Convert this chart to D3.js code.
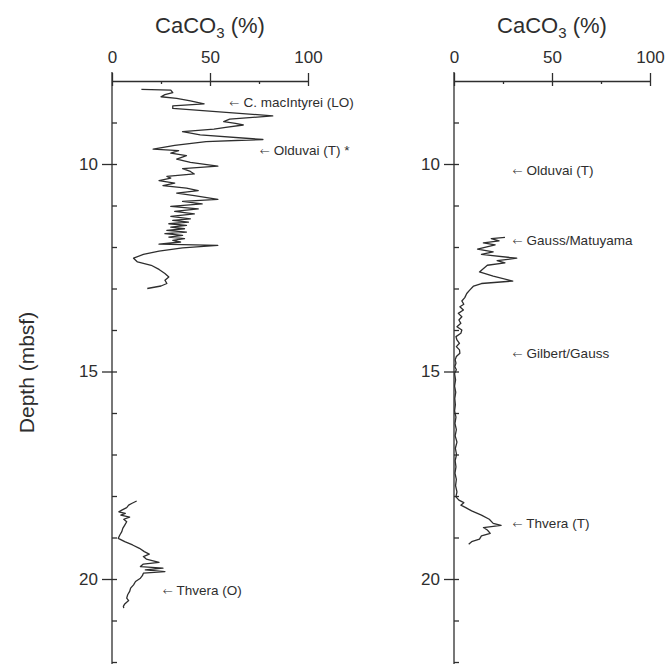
<!DOCTYPE html>
<html>
<head>
<meta charset="utf-8">
<script src="https://cdn.jsdelivr.net/npm/d3@7"></script>
<style>
  body { margin: 0; background: #fff; }
  svg { display: block; }
  text { font-family: "Liberation Sans", Arial, Helvetica, sans-serif; fill: #2e2e2e; }
</style>
</head>
<body>
<svg id="chart" width="668" height="664"></svg>
<script>
// Left column, upper interval: depth (mbsf) and CaCO3 (%)
const upperDepth = [8.20, 8.22, 8.28, 8.33, 8.38, 8.42, 8.48, 8.55, 8.60, 8.66, 8.84, 8.92, 8.98, 9.02, 9.06, 9.12, 9.16, 9.22, 9.30, 9.41,
  9.46, 9.55, 9.64, 9.68, 9.74, 9.80, 9.88, 9.96, 10.05, 10.11, 10.18, 10.24, 10.30, 10.34, 10.40, 10.46, 10.52, 10.58, 10.64, 10.70,
  10.76, 10.85, 10.90, 10.96, 11.02, 11.08, 11.14, 11.20, 11.26, 11.32, 11.36, 11.40, 11.44, 11.48, 11.52, 11.56, 11.60, 11.64, 11.68, 11.72,
  11.76, 11.80, 11.84, 11.88, 11.93, 11.96, 12.02, 12.10, 12.18, 12.27, 12.36, 12.44, 12.54, 12.64, 12.72, 12.80, 12.88, 12.94, 13.00];
const upperCaco3 = [15, 30, 31, 27, 25, 33, 40, 47, 31, 31, 82, 60, 57, 63, 67, 58, 52, 36, 45, 77,
  48, 32, 21, 34, 30, 38, 33, 40, 54, 36, 40, 42, 28, 30, 24, 32, 26, 38, 44, 33,
  42, 54, 36, 46, 30, 44, 32, 42, 30, 40, 31, 39, 29, 38, 30, 37, 28, 38, 27, 36,
  29, 37, 31, 35, 24, 54, 36, 24, 16, 11, 13, 20, 24, 27, 29, 27, 28, 25, 18];

// Left column, lower interval
const lowerDepth = [18.12, 18.18, 18.22, 18.28, 18.34, 18.38, 18.42, 18.46, 18.51, 18.56, 18.62, 18.70, 18.78, 18.86, 18.94, 19.02,
  19.10, 19.18, 19.26, 19.34, 19.40, 19.46, 19.52, 19.60, 19.64, 19.70, 19.74, 19.78, 19.82, 19.86, 19.92, 19.98,
  20.06, 20.14, 20.22, 20.30, 20.38, 20.46, 20.52, 20.60, 20.66, 20.70];
const lowerCaco3 = [12.6, 10, 8.5, 7.5, 5, 3.5, 6.8, 4.5, 9, 6, 7.5, 6.5, 5.5, 5, 4, 3.2,
  6.5, 10.5, 14, 16.5, 19, 16, 17.5, 24, 16, 14.5, 26, 17, 27, 16, 15.5, 14.5,
  12, 11, 9.5, 9, 8, 7.5, 8.5, 6.5, 5.8, 6];

// Right column
const rightDepth = [11.77, 11.80, 11.85, 11.90, 11.95, 12.05, 12.12, 12.18, 12.27, 12.33, 12.38, 12.44, 12.60, 12.70, 12.82, 12.88,
  12.94, 13.04, 13.12, 13.22, 13.30, 13.38, 13.44, 13.52, 13.60, 13.68, 13.76, 13.84, 13.92, 14.00, 14.08, 14.16,
  14.24, 14.32, 14.40, 14.48, 14.56, 14.64, 14.72, 14.80, 14.88, 14.96, 15.05, 15.20, 15.35, 15.50, 15.65, 15.80,
  15.95, 16.10, 16.25, 16.40, 16.55, 16.70, 16.85, 17.00, 17.15, 17.30, 17.45, 17.60, 17.75, 17.90, 18.02, 18.10,
  18.16, 18.22, 18.28, 18.36, 18.46, 18.56, 18.66, 18.71, 18.76, 18.82, 18.90, 18.96, 19.04, 19.10, 19.16];
const rightCaco3 = [26, 19, 23, 15, 21, 12, 20, 14, 32, 22, 26, 17, 13, 20, 30, 14,
  10, 8, 6.5, 5.5, 4, 5, 3, 4.8, 2.2, 4, 2.5, 3.5, 1.5, 4, 3.5, 1,
  1.5, 2.8, 1.2, 2.8, 3, 1.2, 0.6, 1, 0.4, 1.2, 0.3, 0.8, 0.3, 0.9, 0.4, 0.7,
  0.3, 1.0, 0.5, 1.2, 0.6, 1.5, 0.7, 1.3, 0.6, 1.0, 0.5, 1.2, 0.8, 1.5, 1.0, 2.5,
  5.0, 3.5, 6.0, 9.0, 14, 18, 20, 24, 15, 17, 18.5, 14, 13, 9, 7.5];

// Biostratigraphic / magnetostratigraphic events: label, depth, CaCO3 position of the arrow
const leftEventLabels = ["C. macIntyrei (LO)", "Olduvai (T) *", "Thvera (O)"];
const leftEventDepths = [8.52, 9.68, 20.26];
const leftEventAt = [60, 75.5, 26];
const rightEventLabels = ["Olduvai (T)", "Gauss/Matuyama", "Gilbert/Gauss", "Thvera (T)"];
const rightEventDepths = [10.15, 11.83, 14.55, 18.65];
const rightEventAt = [30, 30, 30, 30];

// Axis ticks
const pctMajor = [0, 50, 100];
const pctMinor = [25, 75];
const depthMajor = [10, 15, 20];
const depthMinor = [9, 11, 12, 13, 14, 16, 17, 18, 19, 21, 22];
const depthDomain = [8, 22];
const pctDomain = [0, 100];

const svg = d3.select("#chart");
const ink = "#2e2e2e";

const y = d3.scaleLinear().domain(depthDomain).range([81, 662]);

function panel(left, segments, labels, depths, at) {
  const x = d3.scaleLinear().domain(pctDomain).range([left, left + 196]);
  const g = svg.append("g");

  // top axis
  const top = g.append("g").attr("transform", `translate(0,${y(depthDomain[0])})`)
    .call(d3.axisTop(x).tickValues(pctMajor).tickSize(8).tickSizeOuter(0).tickPadding(10));
  top.selectAll(".tick line").attr("y1", 5);
  const topMinor = g.append("g").attr("transform", `translate(0,${y(depthDomain[0])})`)
    .call(d3.axisTop(x).tickValues(pctMinor).tickSize(-3).tickSizeOuter(0).tickFormat(""));
  topMinor.select(".domain").remove();

  // depth axis
  const yl = g.append("g").attr("transform", `translate(${x(0)},0)`)
    .call(d3.axisLeft(y).tickValues(depthMajor).tickSize(10).tickSizeOuter(0).tickPadding(4));
  yl.selectAll(".tick line").attr("x1", 5);
  yl.select(".domain").attr("d", `M0,${y(depthDomain[0]) - 9}V664`);
  const ym = g.append("g").attr("transform", `translate(${x(0)},0)`)
    .call(d3.axisLeft(y).tickValues(depthMinor).tickSize(-5).tickSizeOuter(0).tickFormat(""));
  ym.select(".domain").remove();

  g.selectAll(".domain, .tick line").attr("stroke", ink).attr("stroke-width", 1.3);
  g.selectAll(".tick text").attr("font-size", 17).attr("fill", ink)
    .attr("font-family", '"Liberation Sans", Arial, sans-serif');

  // title
  const t = g.append("text").attr("x", x(50)).attr("y", 33).attr("text-anchor", "middle")
    .attr("font-size", 22);
  t.append("tspan").text("CaCO");
  t.append("tspan").attr("font-size", 15).attr("dy", 5).text("3");
  t.append("tspan").attr("dy", -5).text(" (%)");

  // curves
  const line = d3.line().x(d => x(d[1])).y(d => y(d[0]));
  segments.forEach(seg => {
    g.append("path").datum(d3.zip(seg[0], seg[1]))
      .attr("d", line).attr("fill", "none").attr("stroke", ink)
      .attr("stroke-width", 1.3).attr("stroke-linejoin", "round");
  });

  // event labels with a left-pointing arrow
  labels.forEach((lab, i) => {
    const tx = g.append("text").attr("x", x(at[i])).attr("y", y(depths[i])).attr("dy", "0.35em")
      .attr("font-size", 13.5);
    tx.append("tspan").attr("font-family", '"DejaVu Sans", sans-serif').attr("font-size", 12)
      .attr("font-weight", 300).text("\u2190");
    tx.append("tspan").text(" " + lab);
  });
  return g;
}

panel(112, [[upperDepth, upperCaco3], [lowerDepth, lowerCaco3]], leftEventLabels, leftEventDepths, leftEventAt);
panel(454, [[rightDepth, rightCaco3]], rightEventLabels, rightEventDepths, rightEventAt);

// depth label
svg.append("text").attr("transform", `translate(34,${(y(depthDomain[0]) + 664) / 2}) rotate(-90)`)
  .attr("text-anchor", "middle").attr("font-size", 21).text("Depth (mbsf)");
</script>
</body>
</html>
